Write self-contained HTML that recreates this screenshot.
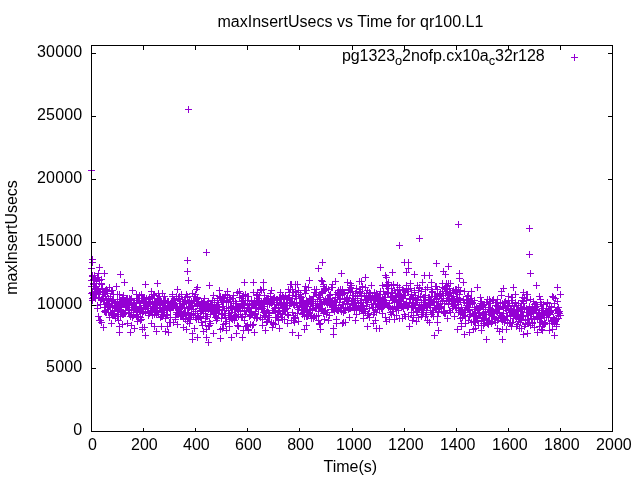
<!DOCTYPE html>
<html><head><meta charset="utf-8"><style>
html,body{margin:0;padding:0;background:#fff;}
svg{display:block;will-change:transform;}
text{font-family:"Liberation Sans",Arial,sans-serif;font-size:16px;fill:#000;}
</style></head><body>
<svg width="640" height="480" viewBox="0 0 640 480">
<rect width="640" height="480" fill="#fff"/>
<path d="M88 293.5h7M91.5 290v7M89 298.5h7M92.5 295v7M89 293.5h7M92.5 290v7M89 275.5h7M92.5 272v7M89 300.5h7M92.5 297v7M90 295.5h7M93.5 292v7M90 284.5h7M93.5 281v7M90 297.5h7M93.5 294v7M90 294.5h7M93.5 291v7M91 294.5h7M94.5 291v7M91 291.5h7M94.5 288v7M91 297.5h7M94.5 294v7M91 283.5h7M94.5 280v7M92 289.5h7M95.5 286v7M92 286.5h7M95.5 283v7M92 298.5h7M95.5 295v7M92 292.5h7M95.5 289v7M93 289.5h7M96.5 286v7M93 283.5h7M96.5 280v7M93 289.5h7M96.5 286v7M93 293.5h7M96.5 290v7M94 290.5h7M97.5 287v7M94 308.5h7M97.5 305v7M94 305.5h7M97.5 302v7M95 273.5h7M98.5 270v7M95 292.5h7M98.5 289v7M95 289.5h7M98.5 286v7M95 297.5h7M98.5 294v7M96 297.5h7M99.5 294v7M96 320.5h7M99.5 317v7M96 283.5h7M99.5 280v7M96 291.5h7M99.5 288v7M97 320.5h7M100.5 317v7M97 304.5h7M100.5 301v7M97 304.5h7M100.5 301v7M97 291.5h7M100.5 288v7M98 279.5h7M101.5 276v7M98 299.5h7M101.5 296v7M98 299.5h7M101.5 296v7M98 284.5h7M101.5 281v7M99 291.5h7M102.5 288v7M99 298.5h7M102.5 295v7M99 288.5h7M102.5 285v7M99 298.5h7M102.5 295v7M100 300.5h7M103.5 297v7M100 300.5h7M103.5 297v7M100 294.5h7M103.5 291v7M101 307.5h7M104.5 304v7M101 311.5h7M104.5 308v7M101 304.5h7M104.5 301v7M101 292.5h7M104.5 289v7M102 310.5h7M105.5 307v7M102 296.5h7M105.5 293v7M102 312.5h7M105.5 309v7M102 290.5h7M105.5 287v7M103 312.5h7M106.5 309v7M103 302.5h7M106.5 299v7M103 289.5h7M106.5 286v7M103 299.5h7M106.5 296v7M104 303.5h7M107.5 300v7M104 306.5h7M107.5 303v7M104 293.5h7M107.5 290v7M104 291.5h7M107.5 288v7M105 305.5h7M108.5 302v7M105 298.5h7M108.5 295v7M105 306.5h7M108.5 303v7M105 312.5h7M108.5 309v7M106 287.5h7M109.5 284v7M106 306.5h7M109.5 303v7M106 317.5h7M109.5 314v7M106 301.5h7M109.5 298v7M107 296.5h7M110.5 293v7M107 312.5h7M110.5 309v7M107 307.5h7M110.5 304v7M108 314.5h7M111.5 311v7M108 301.5h7M111.5 298v7M108 290.5h7M111.5 287v7M108 303.5h7M111.5 300v7M109 300.5h7M112.5 297v7M109 313.5h7M112.5 310v7M109 307.5h7M112.5 304v7M109 290.5h7M112.5 287v7M110 294.5h7M113.5 291v7M110 315.5h7M113.5 312v7M110 313.5h7M113.5 310v7M110 299.5h7M113.5 296v7M111 305.5h7M114.5 302v7M111 310.5h7M114.5 307v7M111 311.5h7M114.5 308v7M111 315.5h7M114.5 312v7M112 308.5h7M115.5 305v7M112 305.5h7M115.5 302v7M112 303.5h7M115.5 300v7M112 318.5h7M115.5 315v7M113 286.5h7M116.5 283v7M113 305.5h7M116.5 302v7M113 306.5h7M116.5 303v7M114 294.5h7M117.5 291v7M114 310.5h7M117.5 307v7M114 301.5h7M117.5 298v7M114 316.5h7M117.5 313v7M115 305.5h7M118.5 302v7M115 314.5h7M118.5 311v7M115 320.5h7M118.5 317v7M115 311.5h7M118.5 308v7M116 299.5h7M119.5 296v7M116 294.5h7M119.5 291v7M116 326.5h7M119.5 323v7M116 306.5h7M119.5 303v7M117 301.5h7M120.5 298v7M117 309.5h7M120.5 306v7M117 305.5h7M120.5 302v7M117 316.5h7M120.5 313v7M118 307.5h7M121.5 304v7M118 307.5h7M121.5 304v7M118 301.5h7M121.5 298v7M118 312.5h7M121.5 309v7M119 299.5h7M122.5 296v7M119 314.5h7M122.5 311v7M119 324.5h7M122.5 321v7M120 295.5h7M123.5 292v7M120 314.5h7M123.5 311v7M120 299.5h7M123.5 296v7M120 297.5h7M123.5 294v7M121 313.5h7M124.5 310v7M121 300.5h7M124.5 297v7M121 303.5h7M124.5 300v7M121 304.5h7M124.5 301v7M122 313.5h7M125.5 310v7M122 304.5h7M125.5 301v7M122 310.5h7M125.5 307v7M122 306.5h7M125.5 303v7M123 300.5h7M126.5 297v7M123 304.5h7M126.5 301v7M123 299.5h7M126.5 296v7M123 307.5h7M126.5 304v7M124 298.5h7M127.5 295v7M124 298.5h7M127.5 295v7M124 323.5h7M127.5 320v7M124 307.5h7M127.5 304v7M125 307.5h7M128.5 304v7M125 313.5h7M128.5 310v7M125 304.5h7M128.5 301v7M126 305.5h7M129.5 302v7M126 312.5h7M129.5 309v7M126 310.5h7M129.5 307v7M126 298.5h7M129.5 295v7M127 316.5h7M130.5 313v7M127 302.5h7M130.5 299v7M127 299.5h7M130.5 296v7M127 300.5h7M130.5 297v7M128 304.5h7M131.5 301v7M128 325.5h7M131.5 322v7M128 298.5h7M131.5 295v7M128 309.5h7M131.5 306v7M129 290.5h7M132.5 287v7M129 307.5h7M132.5 304v7M129 317.5h7M132.5 314v7M129 305.5h7M132.5 302v7M130 302.5h7M133.5 299v7M130 310.5h7M133.5 307v7M130 315.5h7M133.5 312v7M130 314.5h7M133.5 311v7M131 328.5h7M134.5 325v7M131 309.5h7M134.5 306v7M131 302.5h7M134.5 299v7M132 306.5h7M135.5 303v7M132 306.5h7M135.5 303v7M132 308.5h7M135.5 305v7M132 307.5h7M135.5 304v7M133 309.5h7M136.5 306v7M133 294.5h7M136.5 291v7M133 316.5h7M136.5 313v7M133 302.5h7M136.5 299v7M134 298.5h7M137.5 295v7M134 314.5h7M137.5 311v7M134 321.5h7M137.5 318v7M134 312.5h7M137.5 309v7M135 309.5h7M138.5 306v7M135 300.5h7M138.5 297v7M135 317.5h7M138.5 314v7M135 298.5h7M138.5 295v7M136 301.5h7M139.5 298v7M136 308.5h7M139.5 305v7M136 295.5h7M139.5 292v7M136 309.5h7M139.5 306v7M137 303.5h7M140.5 300v7M137 320.5h7M140.5 317v7M137 317.5h7M140.5 314v7M137 307.5h7M140.5 304v7M138 294.5h7M141.5 291v7M138 319.5h7M141.5 316v7M138 309.5h7M141.5 306v7M139 313.5h7M142.5 310v7M139 298.5h7M142.5 295v7M139 327.5h7M142.5 324v7M139 329.5h7M142.5 326v7M140 298.5h7M143.5 295v7M140 311.5h7M143.5 308v7M140 302.5h7M143.5 299v7M140 307.5h7M143.5 304v7M141 297.5h7M144.5 294v7M141 327.5h7M144.5 324v7M141 299.5h7M144.5 296v7M141 305.5h7M144.5 302v7M142 312.5h7M145.5 309v7M142 302.5h7M145.5 299v7M142 305.5h7M145.5 302v7M142 302.5h7M145.5 299v7M143 306.5h7M146.5 303v7M143 298.5h7M146.5 295v7M143 303.5h7M146.5 300v7M143 305.5h7M146.5 302v7M144 304.5h7M147.5 301v7M144 308.5h7M147.5 305v7M144 305.5h7M147.5 302v7M145 315.5h7M148.5 312v7M145 304.5h7M148.5 301v7M145 306.5h7M148.5 303v7M145 302.5h7M148.5 299v7M146 303.5h7M149.5 300v7M146 297.5h7M149.5 294v7M146 313.5h7M149.5 310v7M146 298.5h7M149.5 295v7M147 301.5h7M150.5 298v7M147 311.5h7M150.5 308v7M147 311.5h7M150.5 308v7M147 304.5h7M150.5 301v7M148 291.5h7M151.5 288v7M148 312.5h7M151.5 309v7M148 310.5h7M151.5 307v7M148 296.5h7M151.5 293v7M149 315.5h7M152.5 312v7M149 301.5h7M152.5 298v7M149 298.5h7M152.5 295v7M149 308.5h7M152.5 305v7M150 306.5h7M153.5 303v7M150 309.5h7M153.5 306v7M150 294.5h7M153.5 291v7M151 326.5h7M154.5 323v7M151 302.5h7M154.5 299v7M151 295.5h7M154.5 292v7M151 314.5h7M154.5 311v7M152 304.5h7M155.5 301v7M152 310.5h7M155.5 307v7M152 304.5h7M155.5 301v7M152 307.5h7M155.5 304v7M153 310.5h7M156.5 307v7M153 301.5h7M156.5 298v7M153 314.5h7M156.5 311v7M153 303.5h7M156.5 300v7M154 300.5h7M157.5 297v7M154 308.5h7M157.5 305v7M154 312.5h7M157.5 309v7M154 305.5h7M157.5 302v7M155 300.5h7M158.5 297v7M155 314.5h7M158.5 311v7M155 293.5h7M158.5 290v7M155 299.5h7M158.5 296v7M156 307.5h7M159.5 304v7M156 296.5h7M159.5 293v7M156 307.5h7M159.5 304v7M157 307.5h7M160.5 304v7M157 317.5h7M160.5 314v7M157 300.5h7M160.5 297v7M157 302.5h7M160.5 299v7M158 311.5h7M161.5 308v7M158 301.5h7M161.5 298v7M158 301.5h7M161.5 298v7M158 316.5h7M161.5 313v7M159 307.5h7M162.5 304v7M159 293.5h7M162.5 290v7M159 314.5h7M162.5 311v7M159 316.5h7M162.5 313v7M160 303.5h7M163.5 300v7M160 305.5h7M163.5 302v7M160 312.5h7M163.5 309v7M160 300.5h7M163.5 297v7M161 312.5h7M164.5 309v7M161 309.5h7M164.5 306v7M161 302.5h7M164.5 299v7M161 296.5h7M164.5 293v7M162 305.5h7M165.5 302v7M162 300.5h7M165.5 297v7M162 318.5h7M165.5 315v7M163 309.5h7M166.5 306v7M163 315.5h7M166.5 312v7M163 308.5h7M166.5 305v7M163 310.5h7M166.5 307v7M164 301.5h7M167.5 298v7M164 314.5h7M167.5 311v7M164 326.5h7M167.5 323v7M164 305.5h7M167.5 302v7M165 302.5h7M168.5 299v7M165 306.5h7M168.5 303v7M165 303.5h7M168.5 300v7M165 301.5h7M168.5 298v7M166 308.5h7M169.5 305v7M166 305.5h7M169.5 302v7M166 322.5h7M169.5 319v7M166 307.5h7M169.5 304v7M167 310.5h7M170.5 307v7M167 317.5h7M170.5 314v7M167 305.5h7M170.5 302v7M167 322.5h7M170.5 319v7M168 302.5h7M171.5 299v7M168 301.5h7M171.5 298v7M168 304.5h7M171.5 301v7M168 306.5h7M171.5 303v7M169 296.5h7M172.5 293v7M169 307.5h7M172.5 304v7M169 294.5h7M172.5 291v7M170 322.5h7M173.5 319v7M170 306.5h7M173.5 303v7M170 302.5h7M173.5 299v7M170 300.5h7M173.5 297v7M171 304.5h7M174.5 301v7M171 305.5h7M174.5 302v7M171 299.5h7M174.5 296v7M171 300.5h7M174.5 297v7M172 306.5h7M175.5 303v7M172 303.5h7M175.5 300v7M172 317.5h7M175.5 314v7M172 319.5h7M175.5 316v7M173 307.5h7M176.5 304v7M173 312.5h7M176.5 309v7M173 296.5h7M176.5 293v7M173 314.5h7M176.5 311v7M174 307.5h7M177.5 304v7M174 312.5h7M177.5 309v7M174 324.5h7M177.5 321v7M174 289.5h7M177.5 286v7M175 310.5h7M178.5 307v7M175 298.5h7M178.5 295v7M175 313.5h7M178.5 310v7M176 296.5h7M179.5 293v7M176 303.5h7M179.5 300v7M176 309.5h7M179.5 306v7M176 313.5h7M179.5 310v7M177 308.5h7M180.5 305v7M177 301.5h7M180.5 298v7M177 303.5h7M180.5 300v7M177 316.5h7M180.5 313v7M178 307.5h7M181.5 304v7M178 294.5h7M181.5 291v7M178 316.5h7M181.5 313v7M178 311.5h7M181.5 308v7M179 316.5h7M182.5 313v7M179 304.5h7M182.5 301v7M179 316.5h7M182.5 313v7M179 299.5h7M182.5 296v7M180 313.5h7M183.5 310v7M180 303.5h7M183.5 300v7M180 314.5h7M183.5 311v7M180 318.5h7M183.5 315v7M181 301.5h7M184.5 298v7M181 307.5h7M184.5 304v7M181 307.5h7M184.5 304v7M182 319.5h7M185.5 316v7M182 314.5h7M185.5 311v7M182 297.5h7M185.5 294v7M182 312.5h7M185.5 309v7M183 315.5h7M186.5 312v7M183 329.5h7M186.5 326v7M183 294.5h7M186.5 291v7M183 303.5h7M186.5 300v7M184 321.5h7M187.5 318v7M184 296.5h7M187.5 293v7M184 297.5h7M187.5 294v7M184 312.5h7M187.5 309v7M185 318.5h7M188.5 315v7M185 302.5h7M188.5 299v7M185 313.5h7M188.5 310v7M185 308.5h7M188.5 305v7M186 323.5h7M189.5 320v7M186 307.5h7M189.5 304v7M186 317.5h7M189.5 314v7M186 300.5h7M189.5 297v7M187 306.5h7M190.5 303v7M187 306.5h7M190.5 303v7M187 319.5h7M190.5 316v7M188 313.5h7M191.5 310v7M188 301.5h7M191.5 298v7M188 314.5h7M191.5 311v7M188 315.5h7M191.5 312v7M189 306.5h7M192.5 303v7M189 305.5h7M192.5 302v7M189 305.5h7M192.5 302v7M189 293.5h7M192.5 290v7M190 309.5h7M193.5 306v7M190 309.5h7M193.5 306v7M190 300.5h7M193.5 297v7M190 315.5h7M193.5 312v7M191 296.5h7M194.5 293v7M191 303.5h7M194.5 300v7M191 303.5h7M194.5 300v7M191 328.5h7M194.5 325v7M192 294.5h7M195.5 291v7M192 313.5h7M195.5 310v7M192 317.5h7M195.5 314v7M192 311.5h7M195.5 308v7M193 319.5h7M196.5 316v7M193 299.5h7M196.5 296v7M193 289.5h7M196.5 286v7M194 315.5h7M197.5 312v7M194 297.5h7M197.5 294v7M194 304.5h7M197.5 301v7M194 298.5h7M197.5 295v7M195 318.5h7M198.5 315v7M195 316.5h7M198.5 313v7M195 301.5h7M198.5 298v7M195 316.5h7M198.5 313v7M196 308.5h7M199.5 305v7M196 306.5h7M199.5 303v7M196 308.5h7M199.5 305v7M196 305.5h7M199.5 302v7M197 313.5h7M200.5 310v7M197 310.5h7M200.5 307v7M197 304.5h7M200.5 301v7M197 317.5h7M200.5 314v7M198 302.5h7M201.5 299v7M198 310.5h7M201.5 307v7M198 311.5h7M201.5 308v7M198 322.5h7M201.5 319v7M199 303.5h7M202.5 300v7M199 325.5h7M202.5 322v7M199 309.5h7M202.5 306v7M199 305.5h7M202.5 302v7M200 302.5h7M203.5 299v7M200 313.5h7M203.5 310v7M200 308.5h7M203.5 305v7M201 298.5h7M204.5 295v7M201 298.5h7M204.5 295v7M201 303.5h7M204.5 300v7M201 302.5h7M204.5 299v7M202 318.5h7M205.5 315v7M202 321.5h7M205.5 318v7M202 316.5h7M205.5 313v7M202 311.5h7M205.5 308v7M203 304.5h7M206.5 301v7M203 308.5h7M206.5 305v7M203 316.5h7M206.5 313v7M203 329.5h7M206.5 326v7M204 316.5h7M207.5 313v7M204 305.5h7M207.5 302v7M204 307.5h7M207.5 304v7M204 303.5h7M207.5 300v7M205 301.5h7M208.5 298v7M205 306.5h7M208.5 303v7M205 309.5h7M208.5 306v7M205 326.5h7M208.5 323v7M206 308.5h7M209.5 305v7M206 321.5h7M209.5 318v7M206 325.5h7M209.5 322v7M207 308.5h7M210.5 305v7M207 323.5h7M210.5 320v7M207 314.5h7M210.5 311v7M207 304.5h7M210.5 301v7M208 310.5h7M211.5 307v7M208 307.5h7M211.5 304v7M208 305.5h7M211.5 302v7M208 305.5h7M211.5 302v7M209 308.5h7M212.5 305v7M209 311.5h7M212.5 308v7M209 300.5h7M212.5 297v7M209 307.5h7M212.5 304v7M210 295.5h7M213.5 292v7M210 310.5h7M213.5 307v7M210 313.5h7M213.5 310v7M210 309.5h7M213.5 306v7M211 310.5h7M214.5 307v7M211 313.5h7M214.5 310v7M211 302.5h7M214.5 299v7M211 305.5h7M214.5 302v7M212 312.5h7M215.5 309v7M212 317.5h7M215.5 314v7M212 311.5h7M215.5 308v7M213 306.5h7M216.5 303v7M213 317.5h7M216.5 314v7M213 320.5h7M216.5 317v7M213 306.5h7M216.5 303v7M214 300.5h7M217.5 297v7M214 298.5h7M217.5 295v7M214 309.5h7M217.5 306v7M214 318.5h7M217.5 315v7M215 310.5h7M218.5 307v7M215 309.5h7M218.5 306v7M215 304.5h7M218.5 301v7M215 313.5h7M218.5 310v7M216 290.5h7M219.5 287v7M216 309.5h7M219.5 306v7M216 307.5h7M219.5 304v7M216 296.5h7M219.5 293v7M217 329.5h7M220.5 326v7M217 296.5h7M220.5 293v7M217 298.5h7M220.5 295v7M217 297.5h7M220.5 294v7M218 318.5h7M221.5 315v7M218 300.5h7M221.5 297v7M218 314.5h7M221.5 311v7M219 313.5h7M222.5 310v7M219 310.5h7M222.5 307v7M219 297.5h7M222.5 294v7M219 302.5h7M222.5 299v7M220 324.5h7M223.5 321v7M220 297.5h7M223.5 294v7M220 300.5h7M223.5 297v7M220 306.5h7M223.5 303v7M221 315.5h7M224.5 312v7M221 310.5h7M224.5 307v7M221 315.5h7M224.5 312v7M221 298.5h7M224.5 295v7M222 317.5h7M225.5 314v7M222 313.5h7M225.5 310v7M222 294.5h7M225.5 291v7M222 323.5h7M225.5 320v7M223 330.5h7M226.5 327v7M223 301.5h7M226.5 298v7M223 308.5h7M226.5 305v7M223 321.5h7M226.5 318v7M224 295.5h7M227.5 292v7M224 291.5h7M227.5 288v7M224 297.5h7M227.5 294v7M225 302.5h7M228.5 299v7M225 302.5h7M228.5 299v7M225 313.5h7M228.5 310v7M225 310.5h7M228.5 307v7M226 297.5h7M229.5 294v7M226 313.5h7M229.5 310v7M226 326.5h7M229.5 323v7M226 319.5h7M229.5 316v7M227 317.5h7M230.5 314v7M227 307.5h7M230.5 304v7M227 317.5h7M230.5 314v7M227 299.5h7M230.5 296v7M228 315.5h7M231.5 312v7M228 306.5h7M231.5 303v7M228 318.5h7M231.5 315v7M228 312.5h7M231.5 309v7M229 298.5h7M232.5 295v7M229 308.5h7M232.5 305v7M229 319.5h7M232.5 316v7M229 298.5h7M232.5 295v7M230 303.5h7M233.5 300v7M230 301.5h7M233.5 298v7M230 295.5h7M233.5 292v7M230 317.5h7M233.5 314v7M231 320.5h7M234.5 317v7M231 315.5h7M234.5 312v7M231 309.5h7M234.5 306v7M232 307.5h7M235.5 304v7M232 309.5h7M235.5 306v7M232 301.5h7M235.5 298v7M232 316.5h7M235.5 313v7M233 317.5h7M236.5 314v7M233 316.5h7M236.5 313v7M233 303.5h7M236.5 300v7M233 308.5h7M236.5 305v7M234 306.5h7M237.5 303v7M234 325.5h7M237.5 322v7M234 309.5h7M237.5 306v7M234 292.5h7M237.5 289v7M235 311.5h7M238.5 308v7M235 326.5h7M238.5 323v7M235 314.5h7M238.5 311v7M235 316.5h7M238.5 313v7M236 307.5h7M239.5 304v7M236 291.5h7M239.5 288v7M236 293.5h7M239.5 290v7M236 297.5h7M239.5 294v7M237 306.5h7M240.5 303v7M237 310.5h7M240.5 307v7M237 314.5h7M240.5 311v7M238 304.5h7M241.5 301v7M238 317.5h7M241.5 314v7M238 305.5h7M241.5 302v7M238 301.5h7M241.5 298v7M239 316.5h7M242.5 313v7M239 300.5h7M242.5 297v7M239 298.5h7M242.5 295v7M239 308.5h7M242.5 305v7M240 304.5h7M243.5 301v7M240 304.5h7M243.5 301v7M240 296.5h7M243.5 293v7M240 295.5h7M243.5 292v7M241 303.5h7M244.5 300v7M241 303.5h7M244.5 300v7M241 320.5h7M244.5 317v7M241 311.5h7M244.5 308v7M242 294.5h7M245.5 291v7M242 300.5h7M245.5 297v7M242 314.5h7M245.5 311v7M242 326.5h7M245.5 323v7M243 311.5h7M246.5 308v7M243 310.5h7M246.5 307v7M243 326.5h7M246.5 323v7M244 307.5h7M247.5 304v7M244 305.5h7M247.5 302v7M244 296.5h7M247.5 293v7M244 303.5h7M247.5 300v7M245 329.5h7M248.5 326v7M245 296.5h7M248.5 293v7M245 307.5h7M248.5 304v7M245 296.5h7M248.5 293v7M246 308.5h7M249.5 305v7M246 316.5h7M249.5 313v7M246 305.5h7M249.5 302v7M246 314.5h7M249.5 311v7M247 314.5h7M250.5 311v7M247 311.5h7M250.5 308v7M247 324.5h7M250.5 321v7M247 315.5h7M250.5 312v7M248 305.5h7M251.5 302v7M248 301.5h7M251.5 298v7M248 300.5h7M251.5 297v7M248 312.5h7M251.5 309v7M249 304.5h7M252.5 301v7M249 325.5h7M252.5 322v7M249 305.5h7M252.5 302v7M250 304.5h7M253.5 301v7M250 324.5h7M253.5 321v7M250 292.5h7M253.5 289v7M250 303.5h7M253.5 300v7M251 317.5h7M254.5 314v7M251 300.5h7M254.5 297v7M251 303.5h7M254.5 300v7M251 304.5h7M254.5 301v7M252 314.5h7M255.5 311v7M252 308.5h7M255.5 305v7M252 311.5h7M255.5 308v7M252 313.5h7M255.5 310v7M253 307.5h7M256.5 304v7M253 318.5h7M256.5 315v7M253 301.5h7M256.5 298v7M253 295.5h7M256.5 292v7M254 292.5h7M257.5 289v7M254 294.5h7M257.5 291v7M254 302.5h7M257.5 299v7M254 317.5h7M257.5 314v7M255 309.5h7M258.5 306v7M255 302.5h7M258.5 299v7M255 298.5h7M258.5 295v7M256 303.5h7M259.5 300v7M256 304.5h7M259.5 301v7M256 302.5h7M259.5 299v7M256 295.5h7M259.5 292v7M257 303.5h7M260.5 300v7M257 317.5h7M260.5 314v7M257 289.5h7M260.5 286v7M257 305.5h7M260.5 302v7M258 290.5h7M261.5 287v7M258 309.5h7M261.5 306v7M258 301.5h7M261.5 298v7M258 290.5h7M261.5 287v7M259 308.5h7M262.5 305v7M259 325.5h7M262.5 322v7M259 308.5h7M262.5 305v7M259 319.5h7M262.5 316v7M260 306.5h7M263.5 303v7M260 289.5h7M263.5 286v7M260 312.5h7M263.5 309v7M260 304.5h7M263.5 301v7M261 295.5h7M264.5 292v7M261 315.5h7M264.5 312v7M261 310.5h7M264.5 307v7M261 303.5h7M264.5 300v7M262 316.5h7M265.5 313v7M262 300.5h7M265.5 297v7M262 313.5h7M265.5 310v7M263 299.5h7M266.5 296v7M263 312.5h7M266.5 309v7M263 298.5h7M266.5 295v7M263 322.5h7M266.5 319v7M264 310.5h7M267.5 307v7M264 321.5h7M267.5 318v7M264 300.5h7M267.5 297v7M264 303.5h7M267.5 300v7M265 315.5h7M268.5 312v7M265 298.5h7M268.5 295v7M265 317.5h7M268.5 314v7M265 312.5h7M268.5 309v7M266 317.5h7M269.5 314v7M266 304.5h7M269.5 301v7M266 313.5h7M269.5 310v7M266 301.5h7M269.5 298v7M267 296.5h7M270.5 293v7M267 293.5h7M270.5 290v7M267 302.5h7M270.5 299v7M267 302.5h7M270.5 299v7M268 302.5h7M271.5 299v7M268 290.5h7M271.5 287v7M268 303.5h7M271.5 300v7M269 310.5h7M272.5 307v7M269 302.5h7M272.5 299v7M269 300.5h7M272.5 297v7M269 327.5h7M272.5 324v7M270 298.5h7M273.5 295v7M270 324.5h7M273.5 321v7M270 323.5h7M273.5 320v7M270 310.5h7M273.5 307v7M271 302.5h7M274.5 299v7M271 308.5h7M274.5 305v7M271 297.5h7M274.5 294v7M271 310.5h7M274.5 307v7M272 307.5h7M275.5 304v7M272 312.5h7M275.5 309v7M272 317.5h7M275.5 314v7M272 324.5h7M275.5 321v7M273 304.5h7M276.5 301v7M273 317.5h7M276.5 314v7M273 300.5h7M276.5 297v7M273 299.5h7M276.5 296v7M274 302.5h7M277.5 299v7M274 299.5h7M277.5 296v7M274 317.5h7M277.5 314v7M275 316.5h7M278.5 313v7M275 320.5h7M278.5 317v7M275 307.5h7M278.5 304v7M275 310.5h7M278.5 307v7M276 302.5h7M279.5 299v7M276 297.5h7M279.5 294v7M276 311.5h7M279.5 308v7M276 310.5h7M279.5 307v7M277 298.5h7M280.5 295v7M277 313.5h7M280.5 310v7M277 292.5h7M280.5 289v7M277 305.5h7M280.5 302v7M278 302.5h7M281.5 299v7M278 303.5h7M281.5 300v7M278 298.5h7M281.5 295v7M278 317.5h7M281.5 314v7M279 313.5h7M282.5 310v7M279 319.5h7M282.5 316v7M279 308.5h7M282.5 305v7M279 296.5h7M282.5 293v7M280 304.5h7M283.5 301v7M280 297.5h7M283.5 294v7M280 311.5h7M283.5 308v7M281 319.5h7M284.5 316v7M281 310.5h7M284.5 307v7M281 302.5h7M284.5 299v7M281 304.5h7M284.5 301v7M282 309.5h7M285.5 306v7M282 295.5h7M285.5 292v7M282 308.5h7M285.5 305v7M282 309.5h7M285.5 306v7M283 302.5h7M286.5 299v7M283 303.5h7M286.5 300v7M283 308.5h7M286.5 305v7M283 299.5h7M286.5 296v7M284 299.5h7M287.5 296v7M284 314.5h7M287.5 311v7M284 308.5h7M287.5 305v7M284 323.5h7M287.5 320v7M285 297.5h7M288.5 294v7M285 289.5h7M288.5 286v7M285 315.5h7M288.5 312v7M285 315.5h7M288.5 312v7M286 299.5h7M289.5 296v7M286 292.5h7M289.5 289v7M286 305.5h7M289.5 302v7M287 289.5h7M290.5 286v7M287 302.5h7M290.5 299v7M287 284.5h7M290.5 281v7M287 303.5h7M290.5 300v7M288 284.5h7M291.5 281v7M288 303.5h7M291.5 300v7M288 320.5h7M291.5 317v7M288 302.5h7M291.5 299v7M289 312.5h7M292.5 309v7M289 298.5h7M292.5 295v7M289 295.5h7M292.5 292v7M289 289.5h7M292.5 286v7M290 315.5h7M293.5 312v7M290 304.5h7M293.5 301v7M290 320.5h7M293.5 317v7M290 292.5h7M293.5 289v7M291 302.5h7M294.5 299v7M291 305.5h7M294.5 302v7M291 318.5h7M294.5 315v7M291 322.5h7M294.5 319v7M292 296.5h7M295.5 293v7M292 291.5h7M295.5 288v7M292 284.5h7M295.5 281v7M292 317.5h7M295.5 314v7M293 302.5h7M296.5 299v7M293 296.5h7M296.5 293v7M293 303.5h7M296.5 300v7M294 284.5h7M297.5 281v7M294 313.5h7M297.5 310v7M294 307.5h7M297.5 304v7M294 305.5h7M297.5 302v7M295 292.5h7M298.5 289v7M295 309.5h7M298.5 306v7M295 321.5h7M298.5 318v7M295 290.5h7M298.5 287v7M296 303.5h7M299.5 300v7M296 298.5h7M299.5 295v7M296 307.5h7M299.5 304v7M296 303.5h7M299.5 300v7M297 302.5h7M300.5 299v7M297 294.5h7M300.5 291v7M297 303.5h7M300.5 300v7M297 296.5h7M300.5 293v7M298 302.5h7M301.5 299v7M298 302.5h7M301.5 299v7M298 310.5h7M301.5 307v7M298 297.5h7M301.5 294v7M299 300.5h7M302.5 297v7M299 314.5h7M302.5 311v7M299 301.5h7M302.5 298v7M300 300.5h7M303.5 297v7M300 312.5h7M303.5 309v7M300 306.5h7M303.5 303v7M300 304.5h7M303.5 301v7M301 305.5h7M304.5 302v7M301 290.5h7M304.5 287v7M301 308.5h7M304.5 305v7M301 316.5h7M304.5 313v7M302 309.5h7M305.5 306v7M302 286.5h7M305.5 283v7M302 306.5h7M305.5 303v7M302 293.5h7M305.5 290v7M303 300.5h7M306.5 297v7M303 304.5h7M306.5 301v7M303 290.5h7M306.5 287v7M303 316.5h7M306.5 313v7M304 302.5h7M307.5 299v7M304 311.5h7M307.5 308v7M304 309.5h7M307.5 306v7M304 316.5h7M307.5 313v7M305 315.5h7M308.5 312v7M305 287.5h7M308.5 284v7M305 303.5h7M308.5 300v7M306 280.5h7M309.5 277v7M306 298.5h7M309.5 295v7M306 310.5h7M309.5 307v7M306 312.5h7M309.5 309v7M307 315.5h7M310.5 312v7M307 299.5h7M310.5 296v7M307 306.5h7M310.5 303v7M307 304.5h7M310.5 301v7M308 315.5h7M311.5 312v7M308 318.5h7M311.5 315v7M308 299.5h7M311.5 296v7M308 303.5h7M311.5 300v7M309 299.5h7M312.5 296v7M309 309.5h7M312.5 306v7M309 310.5h7M312.5 307v7M309 308.5h7M312.5 305v7M310 296.5h7M313.5 293v7M310 317.5h7M313.5 314v7M310 303.5h7M313.5 300v7M310 318.5h7M313.5 315v7M311 316.5h7M314.5 313v7M311 289.5h7M314.5 286v7M311 292.5h7M314.5 289v7M312 292.5h7M315.5 289v7M312 305.5h7M315.5 302v7M312 303.5h7M315.5 300v7M312 305.5h7M315.5 302v7M313 294.5h7M316.5 291v7M313 307.5h7M316.5 304v7M313 316.5h7M316.5 313v7M313 289.5h7M316.5 286v7M314 301.5h7M317.5 298v7M314 305.5h7M317.5 302v7M314 301.5h7M317.5 298v7M314 301.5h7M317.5 298v7M315 320.5h7M318.5 317v7M315 315.5h7M318.5 312v7M315 311.5h7M318.5 308v7M315 295.5h7M318.5 292v7M316 324.5h7M319.5 321v7M316 306.5h7M319.5 303v7M316 297.5h7M319.5 294v7M316 299.5h7M319.5 296v7M317 297.5h7M320.5 294v7M317 323.5h7M320.5 320v7M317 304.5h7M320.5 301v7M318 303.5h7M321.5 300v7M318 280.5h7M321.5 277v7M318 309.5h7M321.5 306v7M318 292.5h7M321.5 289v7M319 291.5h7M322.5 288v7M319 308.5h7M322.5 305v7M319 293.5h7M322.5 290v7M319 310.5h7M322.5 307v7M320 313.5h7M323.5 310v7M320 284.5h7M323.5 281v7M320 301.5h7M323.5 298v7M320 286.5h7M323.5 283v7M321 302.5h7M324.5 299v7M321 311.5h7M324.5 308v7M321 288.5h7M324.5 285v7M321 319.5h7M324.5 316v7M322 299.5h7M325.5 296v7M322 290.5h7M325.5 287v7M322 301.5h7M325.5 298v7M322 310.5h7M325.5 307v7M323 288.5h7M326.5 285v7M323 302.5h7M326.5 299v7M323 288.5h7M326.5 285v7M323 314.5h7M326.5 311v7M324 304.5h7M327.5 301v7M324 298.5h7M327.5 295v7M324 312.5h7M327.5 309v7M325 289.5h7M328.5 286v7M325 298.5h7M328.5 295v7M325 320.5h7M328.5 317v7M325 301.5h7M328.5 298v7M326 315.5h7M329.5 312v7M326 304.5h7M329.5 301v7M326 295.5h7M329.5 292v7M326 299.5h7M329.5 296v7M327 303.5h7M330.5 300v7M327 298.5h7M330.5 295v7M327 294.5h7M330.5 291v7M327 294.5h7M330.5 291v7M328 287.5h7M331.5 284v7M328 303.5h7M331.5 300v7M328 305.5h7M331.5 302v7M328 309.5h7M331.5 306v7M329 284.5h7M332.5 281v7M329 309.5h7M332.5 306v7M329 301.5h7M332.5 298v7M329 287.5h7M332.5 284v7M330 303.5h7M333.5 300v7M330 309.5h7M333.5 306v7M330 307.5h7M333.5 304v7M331 309.5h7M334.5 306v7M331 311.5h7M334.5 308v7M331 310.5h7M334.5 307v7M331 301.5h7M334.5 298v7M332 281.5h7M335.5 278v7M332 294.5h7M335.5 291v7M332 305.5h7M335.5 302v7M332 297.5h7M335.5 294v7M333 308.5h7M336.5 305v7M333 309.5h7M336.5 306v7M333 302.5h7M336.5 299v7M333 319.5h7M336.5 316v7M334 292.5h7M337.5 289v7M334 310.5h7M337.5 307v7M334 297.5h7M337.5 294v7M334 294.5h7M337.5 291v7M335 307.5h7M338.5 304v7M335 295.5h7M338.5 292v7M335 310.5h7M338.5 307v7M335 290.5h7M338.5 287v7M336 302.5h7M339.5 299v7M336 293.5h7M339.5 290v7M336 299.5h7M339.5 296v7M337 298.5h7M340.5 295v7M337 290.5h7M340.5 287v7M337 308.5h7M340.5 305v7M337 289.5h7M340.5 286v7M338 292.5h7M341.5 289v7M338 310.5h7M341.5 307v7M338 311.5h7M341.5 308v7M338 308.5h7M341.5 305v7M339 304.5h7M342.5 301v7M339 323.5h7M342.5 320v7M339 289.5h7M342.5 286v7M339 294.5h7M342.5 291v7M340 292.5h7M343.5 289v7M340 310.5h7M343.5 307v7M340 304.5h7M343.5 301v7M340 312.5h7M343.5 309v7M341 310.5h7M344.5 307v7M341 299.5h7M344.5 296v7M341 293.5h7M344.5 290v7M341 292.5h7M344.5 289v7M342 322.5h7M345.5 319v7M342 310.5h7M345.5 307v7M342 307.5h7M345.5 304v7M343 298.5h7M346.5 295v7M343 299.5h7M346.5 296v7M343 298.5h7M346.5 295v7M343 298.5h7M346.5 295v7M344 300.5h7M347.5 297v7M344 297.5h7M347.5 294v7M344 304.5h7M347.5 301v7M344 303.5h7M347.5 300v7M345 309.5h7M348.5 306v7M345 301.5h7M348.5 298v7M345 309.5h7M348.5 306v7M345 290.5h7M348.5 287v7M346 317.5h7M349.5 314v7M346 289.5h7M349.5 286v7M346 298.5h7M349.5 295v7M346 308.5h7M349.5 305v7M347 292.5h7M350.5 289v7M347 308.5h7M350.5 305v7M347 287.5h7M350.5 284v7M347 283.5h7M350.5 280v7M348 288.5h7M351.5 285v7M348 285.5h7M351.5 282v7M348 301.5h7M351.5 298v7M349 298.5h7M352.5 295v7M349 304.5h7M352.5 301v7M349 291.5h7M352.5 288v7M349 300.5h7M352.5 297v7M350 300.5h7M353.5 297v7M350 305.5h7M353.5 302v7M350 298.5h7M353.5 295v7M350 295.5h7M353.5 292v7M351 302.5h7M354.5 299v7M351 309.5h7M354.5 306v7M351 307.5h7M354.5 304v7M351 310.5h7M354.5 307v7M352 295.5h7M355.5 292v7M352 293.5h7M355.5 290v7M352 320.5h7M355.5 317v7M352 298.5h7M355.5 295v7M353 305.5h7M356.5 302v7M353 308.5h7M356.5 305v7M353 314.5h7M356.5 311v7M353 288.5h7M356.5 285v7M354 296.5h7M357.5 293v7M354 296.5h7M357.5 293v7M354 298.5h7M357.5 295v7M354 300.5h7M357.5 297v7M355 303.5h7M358.5 300v7M355 306.5h7M358.5 303v7M355 306.5h7M358.5 303v7M356 289.5h7M359.5 286v7M356 310.5h7M359.5 307v7M356 292.5h7M359.5 289v7M356 289.5h7M359.5 286v7M357 291.5h7M360.5 288v7M357 293.5h7M360.5 290v7M357 302.5h7M360.5 299v7M357 308.5h7M360.5 305v7M358 281.5h7M361.5 278v7M358 295.5h7M361.5 292v7M358 309.5h7M361.5 306v7M358 302.5h7M361.5 299v7M359 305.5h7M362.5 302v7M359 287.5h7M362.5 284v7M359 309.5h7M362.5 306v7M359 286.5h7M362.5 283v7M360 302.5h7M363.5 299v7M360 313.5h7M363.5 310v7M360 318.5h7M363.5 315v7M360 305.5h7M363.5 302v7M361 309.5h7M364.5 306v7M361 295.5h7M364.5 292v7M361 296.5h7M364.5 293v7M362 311.5h7M365.5 308v7M362 300.5h7M365.5 297v7M362 299.5h7M365.5 296v7M362 287.5h7M365.5 284v7M363 302.5h7M366.5 299v7M363 306.5h7M366.5 303v7M363 293.5h7M366.5 290v7M363 296.5h7M366.5 293v7M364 315.5h7M367.5 312v7M364 302.5h7M367.5 299v7M364 298.5h7M367.5 295v7M364 290.5h7M367.5 287v7M365 295.5h7M368.5 292v7M365 298.5h7M368.5 295v7M365 313.5h7M368.5 310v7M365 295.5h7M368.5 292v7M366 317.5h7M369.5 314v7M366 292.5h7M369.5 289v7M366 297.5h7M369.5 294v7M366 308.5h7M369.5 305v7M367 298.5h7M370.5 295v7M367 293.5h7M370.5 290v7M367 299.5h7M370.5 296v7M368 304.5h7M371.5 301v7M368 285.5h7M371.5 282v7M368 298.5h7M371.5 295v7M368 299.5h7M371.5 296v7M369 296.5h7M372.5 293v7M369 307.5h7M372.5 304v7M369 295.5h7M372.5 292v7M369 297.5h7M372.5 294v7M370 300.5h7M373.5 297v7M370 307.5h7M373.5 304v7M370 298.5h7M373.5 295v7M370 314.5h7M373.5 311v7M371 292.5h7M374.5 289v7M371 312.5h7M374.5 309v7M371 292.5h7M374.5 289v7M371 299.5h7M374.5 296v7M372 303.5h7M375.5 300v7M372 320.5h7M375.5 317v7M372 309.5h7M375.5 306v7M372 296.5h7M375.5 293v7M373 312.5h7M376.5 309v7M373 298.5h7M376.5 295v7M373 293.5h7M376.5 290v7M374 304.5h7M377.5 301v7M374 301.5h7M377.5 298v7M374 309.5h7M377.5 306v7M374 295.5h7M377.5 292v7M375 304.5h7M378.5 301v7M375 306.5h7M378.5 303v7M375 303.5h7M378.5 300v7M375 300.5h7M378.5 297v7M376 294.5h7M379.5 291v7M376 309.5h7M379.5 306v7M376 301.5h7M379.5 298v7M376 305.5h7M379.5 302v7M377 297.5h7M380.5 294v7M377 300.5h7M380.5 297v7M377 291.5h7M380.5 288v7M377 301.5h7M380.5 298v7M378 307.5h7M381.5 304v7M378 301.5h7M381.5 298v7M378 308.5h7M381.5 305v7M378 303.5h7M381.5 300v7M379 313.5h7M382.5 310v7M379 298.5h7M382.5 295v7M379 285.5h7M382.5 282v7M379 304.5h7M382.5 301v7M380 299.5h7M383.5 296v7M380 291.5h7M383.5 288v7M380 306.5h7M383.5 303v7M381 303.5h7M384.5 300v7M381 304.5h7M384.5 301v7M381 297.5h7M384.5 294v7M381 302.5h7M384.5 299v7M382 302.5h7M385.5 299v7M382 317.5h7M385.5 314v7M382 294.5h7M385.5 291v7M382 300.5h7M385.5 297v7M383 303.5h7M386.5 300v7M383 284.5h7M386.5 281v7M383 286.5h7M386.5 283v7M383 321.5h7M386.5 318v7M384 284.5h7M387.5 281v7M384 305.5h7M387.5 302v7M384 292.5h7M387.5 289v7M384 293.5h7M387.5 290v7M385 282.5h7M388.5 279v7M385 292.5h7M388.5 289v7M385 307.5h7M388.5 304v7M385 288.5h7M388.5 285v7M386 306.5h7M389.5 303v7M386 303.5h7M389.5 300v7M386 319.5h7M389.5 316v7M387 296.5h7M390.5 293v7M387 312.5h7M390.5 309v7M387 308.5h7M390.5 305v7M387 297.5h7M390.5 294v7M388 285.5h7M391.5 282v7M388 314.5h7M391.5 311v7M388 288.5h7M391.5 285v7M388 296.5h7M391.5 293v7M389 308.5h7M392.5 305v7M389 311.5h7M392.5 308v7M389 292.5h7M392.5 289v7M389 300.5h7M392.5 297v7M390 298.5h7M393.5 295v7M390 311.5h7M393.5 308v7M390 284.5h7M393.5 281v7M390 309.5h7M393.5 306v7M391 300.5h7M394.5 297v7M391 290.5h7M394.5 287v7M391 319.5h7M394.5 316v7M391 302.5h7M394.5 299v7M392 293.5h7M395.5 290v7M392 296.5h7M395.5 293v7M392 295.5h7M395.5 292v7M393 302.5h7M396.5 299v7M393 299.5h7M396.5 296v7M393 306.5h7M396.5 303v7M393 315.5h7M396.5 312v7M394 307.5h7M397.5 304v7M394 289.5h7M397.5 286v7M394 285.5h7M397.5 282v7M394 293.5h7M397.5 290v7M395 310.5h7M398.5 307v7M395 297.5h7M398.5 294v7M395 294.5h7M398.5 291v7M395 301.5h7M398.5 298v7M396 287.5h7M399.5 284v7M396 290.5h7M399.5 287v7M396 305.5h7M399.5 302v7M396 297.5h7M399.5 294v7M397 296.5h7M400.5 293v7M397 303.5h7M400.5 300v7M397 295.5h7M400.5 292v7M397 294.5h7M400.5 291v7M398 296.5h7M401.5 293v7M398 306.5h7M401.5 303v7M398 301.5h7M401.5 298v7M399 289.5h7M402.5 286v7M399 297.5h7M402.5 294v7M399 306.5h7M402.5 303v7M399 318.5h7M402.5 315v7M400 290.5h7M403.5 287v7M400 303.5h7M403.5 300v7M400 298.5h7M403.5 295v7M400 308.5h7M403.5 305v7M401 304.5h7M404.5 301v7M401 314.5h7M404.5 311v7M401 305.5h7M404.5 302v7M401 295.5h7M404.5 292v7M402 295.5h7M405.5 292v7M402 304.5h7M405.5 301v7M402 304.5h7M405.5 301v7M402 316.5h7M405.5 313v7M403 289.5h7M406.5 286v7M403 303.5h7M406.5 300v7M403 288.5h7M406.5 285v7M403 285.5h7M406.5 282v7M404 307.5h7M407.5 304v7M404 305.5h7M407.5 302v7M404 291.5h7M407.5 288v7M405 316.5h7M408.5 313v7M405 291.5h7M408.5 288v7M405 289.5h7M408.5 286v7M405 306.5h7M408.5 303v7M406 302.5h7M409.5 299v7M406 299.5h7M409.5 296v7M406 299.5h7M409.5 296v7M406 302.5h7M409.5 299v7M407 299.5h7M410.5 296v7M407 298.5h7M410.5 295v7M407 283.5h7M410.5 280v7M407 288.5h7M410.5 285v7M408 306.5h7M411.5 303v7M408 294.5h7M411.5 291v7M408 305.5h7M411.5 302v7M408 312.5h7M411.5 309v7M409 297.5h7M412.5 294v7M409 303.5h7M412.5 300v7M409 320.5h7M412.5 317v7M409 307.5h7M412.5 304v7M410 317.5h7M413.5 314v7M410 315.5h7M413.5 312v7M410 307.5h7M413.5 304v7M410 299.5h7M413.5 296v7M411 292.5h7M414.5 289v7M411 290.5h7M414.5 287v7M411 305.5h7M414.5 302v7M412 304.5h7M415.5 301v7M412 298.5h7M415.5 295v7M412 308.5h7M415.5 305v7M412 295.5h7M415.5 292v7M413 311.5h7M416.5 308v7M413 300.5h7M416.5 297v7M413 300.5h7M416.5 297v7M413 300.5h7M416.5 297v7M414 299.5h7M417.5 296v7M414 285.5h7M417.5 282v7M414 302.5h7M417.5 299v7M414 312.5h7M417.5 309v7M415 307.5h7M418.5 304v7M415 297.5h7M418.5 294v7M415 317.5h7M418.5 314v7M415 290.5h7M418.5 287v7M416 288.5h7M419.5 285v7M416 305.5h7M419.5 302v7M416 287.5h7M419.5 284v7M416 308.5h7M419.5 305v7M417 307.5h7M420.5 304v7M417 307.5h7M420.5 304v7M417 296.5h7M420.5 293v7M418 302.5h7M421.5 299v7M418 291.5h7M421.5 288v7M418 316.5h7M421.5 313v7M418 308.5h7M421.5 305v7M419 307.5h7M422.5 304v7M419 282.5h7M422.5 279v7M419 308.5h7M422.5 305v7M419 314.5h7M422.5 311v7M420 312.5h7M423.5 309v7M420 307.5h7M423.5 304v7M420 300.5h7M423.5 297v7M420 297.5h7M423.5 294v7M421 306.5h7M424.5 303v7M421 304.5h7M424.5 301v7M421 302.5h7M424.5 299v7M421 297.5h7M424.5 294v7M422 316.5h7M425.5 313v7M422 289.5h7M425.5 286v7M422 300.5h7M425.5 297v7M422 295.5h7M425.5 292v7M423 310.5h7M426.5 307v7M423 314.5h7M426.5 311v7M423 312.5h7M426.5 309v7M424 307.5h7M427.5 304v7M424 287.5h7M427.5 284v7M424 320.5h7M427.5 317v7M424 305.5h7M427.5 302v7M425 299.5h7M428.5 296v7M425 300.5h7M428.5 297v7M425 297.5h7M428.5 294v7M425 304.5h7M428.5 301v7M426 303.5h7M429.5 300v7M426 297.5h7M429.5 294v7M426 300.5h7M429.5 297v7M426 305.5h7M429.5 302v7M427 305.5h7M430.5 302v7M427 299.5h7M430.5 296v7M427 304.5h7M430.5 301v7M427 310.5h7M430.5 307v7M428 296.5h7M431.5 293v7M428 314.5h7M431.5 311v7M428 282.5h7M431.5 279v7M428 289.5h7M431.5 286v7M429 292.5h7M432.5 289v7M429 291.5h7M432.5 288v7M429 312.5h7M432.5 309v7M430 312.5h7M433.5 309v7M430 301.5h7M433.5 298v7M430 316.5h7M433.5 313v7M430 302.5h7M433.5 299v7M431 296.5h7M434.5 293v7M431 302.5h7M434.5 299v7M431 299.5h7M434.5 296v7M431 307.5h7M434.5 304v7M432 286.5h7M435.5 283v7M432 309.5h7M435.5 306v7M432 296.5h7M435.5 293v7M432 308.5h7M435.5 305v7M433 286.5h7M436.5 283v7M433 296.5h7M436.5 293v7M433 301.5h7M436.5 298v7M433 309.5h7M436.5 306v7M434 289.5h7M437.5 286v7M434 316.5h7M437.5 313v7M434 305.5h7M437.5 302v7M434 295.5h7M437.5 292v7M435 312.5h7M438.5 309v7M435 301.5h7M438.5 298v7M435 311.5h7M438.5 308v7M436 307.5h7M439.5 304v7M436 295.5h7M439.5 292v7M436 296.5h7M439.5 293v7M436 306.5h7M439.5 303v7M437 303.5h7M440.5 300v7M437 293.5h7M440.5 290v7M437 294.5h7M440.5 291v7M437 306.5h7M440.5 303v7M438 307.5h7M441.5 304v7M438 298.5h7M441.5 295v7M438 307.5h7M441.5 304v7M438 308.5h7M441.5 305v7M439 301.5h7M442.5 298v7M439 291.5h7M442.5 288v7M439 287.5h7M442.5 284v7M439 283.5h7M442.5 280v7M440 312.5h7M443.5 309v7M440 298.5h7M443.5 295v7M440 295.5h7M443.5 292v7M440 298.5h7M443.5 295v7M441 288.5h7M444.5 285v7M441 303.5h7M444.5 300v7M441 313.5h7M444.5 310v7M441 311.5h7M444.5 308v7M442 286.5h7M445.5 283v7M442 313.5h7M445.5 310v7M442 293.5h7M445.5 290v7M443 283.5h7M446.5 280v7M443 289.5h7M446.5 286v7M443 291.5h7M446.5 288v7M443 300.5h7M446.5 297v7M444 291.5h7M447.5 288v7M444 286.5h7M447.5 283v7M444 298.5h7M447.5 295v7M444 318.5h7M447.5 315v7M445 294.5h7M448.5 291v7M445 304.5h7M448.5 301v7M445 301.5h7M448.5 298v7M445 283.5h7M448.5 280v7M446 310.5h7M449.5 307v7M446 288.5h7M449.5 285v7M446 295.5h7M449.5 292v7M446 299.5h7M449.5 296v7M447 293.5h7M450.5 290v7M447 283.5h7M450.5 280v7M447 312.5h7M450.5 309v7M447 292.5h7M450.5 289v7M448 298.5h7M451.5 295v7M448 300.5h7M451.5 297v7M448 301.5h7M451.5 298v7M449 298.5h7M452.5 295v7M449 303.5h7M452.5 300v7M449 304.5h7M452.5 301v7M449 308.5h7M452.5 305v7M450 296.5h7M453.5 293v7M450 293.5h7M453.5 290v7M450 290.5h7M453.5 287v7M450 306.5h7M453.5 303v7M451 300.5h7M454.5 297v7M451 305.5h7M454.5 302v7M451 305.5h7M454.5 302v7M451 316.5h7M454.5 313v7M452 302.5h7M455.5 299v7M452 307.5h7M455.5 304v7M452 289.5h7M455.5 286v7M452 291.5h7M455.5 288v7M453 298.5h7M456.5 295v7M453 290.5h7M456.5 287v7M453 308.5h7M456.5 305v7M453 289.5h7M456.5 286v7M454 302.5h7M457.5 299v7M454 292.5h7M457.5 289v7M454 299.5h7M457.5 296v7M455 300.5h7M458.5 297v7M455 287.5h7M458.5 284v7M455 304.5h7M458.5 301v7M455 312.5h7M458.5 309v7M456 310.5h7M459.5 307v7M456 298.5h7M459.5 295v7M456 299.5h7M459.5 296v7M456 294.5h7M459.5 291v7M457 310.5h7M460.5 307v7M457 318.5h7M460.5 315v7M457 300.5h7M460.5 297v7M457 290.5h7M460.5 287v7M458 307.5h7M461.5 304v7M458 312.5h7M461.5 309v7M458 307.5h7M461.5 304v7M458 326.5h7M461.5 323v7M459 314.5h7M462.5 311v7M459 312.5h7M462.5 309v7M459 311.5h7M462.5 308v7M459 317.5h7M462.5 314v7M460 299.5h7M463.5 296v7M460 300.5h7M463.5 297v7M460 312.5h7M463.5 309v7M461 302.5h7M464.5 299v7M461 310.5h7M464.5 307v7M461 291.5h7M464.5 288v7M461 315.5h7M464.5 312v7M462 316.5h7M465.5 313v7M462 309.5h7M465.5 306v7M462 310.5h7M465.5 307v7M462 323.5h7M465.5 320v7M463 299.5h7M466.5 296v7M463 300.5h7M466.5 297v7M463 299.5h7M466.5 296v7M463 305.5h7M466.5 302v7M464 300.5h7M467.5 297v7M464 309.5h7M467.5 306v7M464 303.5h7M467.5 300v7M464 296.5h7M467.5 293v7M465 295.5h7M468.5 292v7M465 320.5h7M468.5 317v7M465 309.5h7M468.5 306v7M465 307.5h7M468.5 304v7M466 310.5h7M469.5 307v7M466 309.5h7M469.5 306v7M466 316.5h7M469.5 313v7M467 314.5h7M470.5 311v7M467 304.5h7M470.5 301v7M467 302.5h7M470.5 299v7M467 300.5h7M470.5 297v7M468 298.5h7M471.5 295v7M468 322.5h7M471.5 319v7M468 301.5h7M471.5 298v7M468 291.5h7M471.5 288v7M469 302.5h7M472.5 299v7M469 303.5h7M472.5 300v7M469 313.5h7M472.5 310v7M469 302.5h7M472.5 299v7M470 315.5h7M473.5 312v7M470 314.5h7M473.5 311v7M470 321.5h7M473.5 318v7M470 329.5h7M473.5 326v7M471 322.5h7M474.5 319v7M471 300.5h7M474.5 297v7M471 307.5h7M474.5 304v7M471 313.5h7M474.5 310v7M472 328.5h7M475.5 325v7M472 316.5h7M475.5 313v7M472 321.5h7M475.5 318v7M472 309.5h7M475.5 306v7M473 316.5h7M476.5 313v7M473 317.5h7M476.5 314v7M473 307.5h7M476.5 304v7M474 318.5h7M477.5 315v7M474 320.5h7M477.5 317v7M474 310.5h7M477.5 307v7M474 320.5h7M477.5 317v7M475 325.5h7M478.5 322v7M475 312.5h7M478.5 309v7M475 312.5h7M478.5 309v7M475 309.5h7M478.5 306v7M476 306.5h7M479.5 303v7M476 313.5h7M479.5 310v7M476 308.5h7M479.5 305v7M476 309.5h7M479.5 306v7M477 305.5h7M480.5 302v7M477 297.5h7M480.5 294v7M477 303.5h7M480.5 300v7M477 315.5h7M480.5 312v7M478 301.5h7M481.5 298v7M478 306.5h7M481.5 303v7M478 325.5h7M481.5 322v7M478 321.5h7M481.5 318v7M479 305.5h7M482.5 302v7M479 317.5h7M482.5 314v7M479 306.5h7M482.5 303v7M480 325.5h7M483.5 322v7M480 307.5h7M483.5 304v7M480 313.5h7M483.5 310v7M480 323.5h7M483.5 320v7M481 304.5h7M484.5 301v7M481 323.5h7M484.5 320v7M481 304.5h7M484.5 301v7M481 314.5h7M484.5 311v7M482 309.5h7M485.5 306v7M482 311.5h7M485.5 308v7M482 314.5h7M485.5 311v7M482 312.5h7M485.5 309v7M483 302.5h7M486.5 299v7M483 319.5h7M486.5 316v7M483 318.5h7M486.5 315v7M483 322.5h7M486.5 319v7M484 323.5h7M487.5 320v7M484 299.5h7M487.5 296v7M484 322.5h7M487.5 319v7M484 323.5h7M487.5 320v7M485 307.5h7M488.5 304v7M485 320.5h7M488.5 317v7M485 324.5h7M488.5 321v7M486 307.5h7M489.5 304v7M486 299.5h7M489.5 296v7M486 309.5h7M489.5 306v7M486 314.5h7M489.5 311v7M487 301.5h7M490.5 298v7M487 310.5h7M490.5 307v7M487 303.5h7M490.5 300v7M487 309.5h7M490.5 306v7M488 313.5h7M491.5 310v7M488 315.5h7M491.5 312v7M488 323.5h7M491.5 320v7M488 311.5h7M491.5 308v7M489 309.5h7M492.5 306v7M489 321.5h7M492.5 318v7M489 300.5h7M492.5 297v7M489 300.5h7M492.5 297v7M490 299.5h7M493.5 296v7M490 311.5h7M493.5 308v7M490 316.5h7M493.5 313v7M490 312.5h7M493.5 309v7M491 317.5h7M494.5 314v7M491 319.5h7M494.5 316v7M491 317.5h7M494.5 314v7M492 305.5h7M495.5 302v7M492 310.5h7M495.5 307v7M492 322.5h7M495.5 319v7M492 302.5h7M495.5 299v7M493 310.5h7M496.5 307v7M493 309.5h7M496.5 306v7M493 311.5h7M496.5 308v7M493 302.5h7M496.5 299v7M494 299.5h7M497.5 296v7M494 320.5h7M497.5 317v7M494 306.5h7M497.5 303v7M494 312.5h7M497.5 309v7M495 318.5h7M498.5 315v7M495 309.5h7M498.5 306v7M495 318.5h7M498.5 315v7M495 307.5h7M498.5 304v7M496 309.5h7M499.5 306v7M496 312.5h7M499.5 309v7M496 308.5h7M499.5 305v7M496 313.5h7M499.5 310v7M497 315.5h7M500.5 312v7M497 317.5h7M500.5 314v7M497 303.5h7M500.5 300v7M498 316.5h7M501.5 313v7M498 315.5h7M501.5 312v7M498 295.5h7M501.5 292v7M498 291.5h7M501.5 288v7M499 317.5h7M502.5 314v7M499 303.5h7M502.5 300v7M499 321.5h7M502.5 318v7M499 329.5h7M502.5 326v7M500 307.5h7M503.5 304v7M500 306.5h7M503.5 303v7M500 313.5h7M503.5 310v7M500 318.5h7M503.5 315v7M501 302.5h7M504.5 299v7M501 322.5h7M504.5 319v7M501 320.5h7M504.5 317v7M501 318.5h7M504.5 315v7M502 308.5h7M505.5 305v7M502 320.5h7M505.5 317v7M502 319.5h7M505.5 316v7M502 301.5h7M505.5 298v7M503 329.5h7M506.5 326v7M503 310.5h7M506.5 307v7M503 316.5h7M506.5 313v7M503 308.5h7M506.5 305v7M504 316.5h7M507.5 313v7M504 322.5h7M507.5 319v7M504 305.5h7M507.5 302v7M505 296.5h7M508.5 293v7M505 309.5h7M508.5 306v7M505 300.5h7M508.5 297v7M505 305.5h7M508.5 302v7M506 312.5h7M509.5 309v7M506 312.5h7M509.5 309v7M506 323.5h7M509.5 320v7M506 303.5h7M509.5 300v7M507 316.5h7M510.5 313v7M507 308.5h7M510.5 305v7M507 323.5h7M510.5 320v7M507 315.5h7M510.5 312v7M508 326.5h7M511.5 323v7M508 308.5h7M511.5 305v7M508 297.5h7M511.5 294v7M508 300.5h7M511.5 297v7M509 297.5h7M512.5 294v7M509 303.5h7M512.5 300v7M509 311.5h7M512.5 308v7M509 322.5h7M512.5 319v7M510 318.5h7M513.5 315v7M510 316.5h7M513.5 313v7M510 309.5h7M513.5 306v7M511 306.5h7M514.5 303v7M511 313.5h7M514.5 310v7M511 314.5h7M514.5 311v7M511 315.5h7M514.5 312v7M512 316.5h7M515.5 313v7M512 312.5h7M515.5 309v7M512 294.5h7M515.5 291v7M512 302.5h7M515.5 299v7M513 305.5h7M516.5 302v7M513 326.5h7M516.5 323v7M513 309.5h7M516.5 306v7M513 318.5h7M516.5 315v7M514 324.5h7M517.5 321v7M514 316.5h7M517.5 313v7M514 309.5h7M517.5 306v7M514 310.5h7M517.5 307v7M515 303.5h7M518.5 300v7M515 315.5h7M518.5 312v7M515 321.5h7M518.5 318v7M515 317.5h7M518.5 314v7M516 319.5h7M519.5 316v7M516 318.5h7M519.5 315v7M516 328.5h7M519.5 325v7M517 307.5h7M520.5 304v7M517 314.5h7M520.5 311v7M517 318.5h7M520.5 315v7M517 322.5h7M520.5 319v7M518 308.5h7M521.5 305v7M518 311.5h7M521.5 308v7M518 303.5h7M521.5 300v7M518 319.5h7M521.5 316v7M519 315.5h7M522.5 312v7M519 309.5h7M522.5 306v7M519 297.5h7M522.5 294v7M519 300.5h7M522.5 297v7M520 303.5h7M523.5 300v7M520 316.5h7M523.5 313v7M520 301.5h7M523.5 298v7M520 292.5h7M523.5 289v7M521 298.5h7M524.5 295v7M521 307.5h7M524.5 304v7M521 326.5h7M524.5 323v7M521 308.5h7M524.5 305v7M522 320.5h7M525.5 317v7M522 324.5h7M525.5 321v7M522 323.5h7M525.5 320v7M523 312.5h7M526.5 309v7M523 300.5h7M526.5 297v7M523 308.5h7M526.5 305v7M523 294.5h7M526.5 291v7M524 315.5h7M527.5 312v7M524 319.5h7M527.5 316v7M524 294.5h7M527.5 291v7M524 312.5h7M527.5 309v7M525 315.5h7M528.5 312v7M525 322.5h7M528.5 319v7M525 323.5h7M528.5 320v7M525 319.5h7M528.5 316v7M526 306.5h7M529.5 303v7M526 309.5h7M529.5 306v7M526 322.5h7M529.5 319v7M526 307.5h7M529.5 304v7M527 313.5h7M530.5 310v7M527 325.5h7M530.5 322v7M527 314.5h7M530.5 311v7M527 299.5h7M530.5 296v7M528 310.5h7M531.5 307v7M528 318.5h7M531.5 315v7M528 311.5h7M531.5 308v7M529 322.5h7M532.5 319v7M529 323.5h7M532.5 320v7M529 306.5h7M532.5 303v7M529 308.5h7M532.5 305v7M530 312.5h7M533.5 309v7M530 301.5h7M533.5 298v7M530 316.5h7M533.5 313v7M530 311.5h7M533.5 308v7M531 319.5h7M534.5 316v7M531 307.5h7M534.5 304v7M531 304.5h7M534.5 301v7M531 327.5h7M534.5 324v7M532 304.5h7M535.5 301v7M532 307.5h7M535.5 304v7M532 306.5h7M535.5 303v7M532 310.5h7M535.5 307v7M533 304.5h7M536.5 301v7M533 313.5h7M536.5 310v7M533 306.5h7M536.5 303v7M533 309.5h7M536.5 306v7M534 316.5h7M537.5 313v7M534 318.5h7M537.5 315v7M534 317.5h7M537.5 314v7M534 306.5h7M537.5 303v7M535 316.5h7M538.5 313v7M535 312.5h7M538.5 309v7M535 312.5h7M538.5 309v7M536 296.5h7M539.5 293v7M536 318.5h7M539.5 315v7M536 312.5h7M539.5 309v7M536 326.5h7M539.5 323v7M537 318.5h7M540.5 315v7M537 302.5h7M540.5 299v7M537 299.5h7M540.5 296v7M537 322.5h7M540.5 319v7M538 304.5h7M541.5 301v7M538 318.5h7M541.5 315v7M538 310.5h7M541.5 307v7M538 329.5h7M541.5 326v7M539 314.5h7M542.5 311v7M539 324.5h7M542.5 321v7M539 323.5h7M542.5 320v7M539 308.5h7M542.5 305v7M540 310.5h7M543.5 307v7M540 324.5h7M543.5 321v7M540 313.5h7M543.5 310v7M540 304.5h7M543.5 301v7M541 322.5h7M544.5 319v7M541 313.5h7M544.5 310v7M541 324.5h7M544.5 321v7M542 312.5h7M545.5 309v7M542 323.5h7M545.5 320v7M542 311.5h7M545.5 308v7M542 323.5h7M545.5 320v7M543 317.5h7M546.5 314v7M543 312.5h7M546.5 309v7M543 315.5h7M546.5 312v7M543 308.5h7M546.5 305v7M544 302.5h7M547.5 299v7M544 303.5h7M547.5 300v7M544 313.5h7M547.5 310v7M544 303.5h7M547.5 300v7M545 317.5h7M548.5 314v7M545 317.5h7M548.5 314v7M545 317.5h7M548.5 314v7M545 309.5h7M548.5 306v7M546 314.5h7M549.5 311v7M546 313.5h7M549.5 310v7M546 323.5h7M549.5 320v7M546 306.5h7M549.5 303v7M547 310.5h7M550.5 307v7M547 311.5h7M550.5 308v7M547 312.5h7M550.5 309v7M548 306.5h7M551.5 303v7M548 307.5h7M551.5 304v7M548 321.5h7M551.5 318v7M548 307.5h7M551.5 304v7M549 320.5h7M552.5 317v7M549 329.5h7M552.5 326v7M549 323.5h7M552.5 320v7M549 296.5h7M552.5 293v7M550 319.5h7M553.5 316v7M550 317.5h7M553.5 314v7M550 318.5h7M553.5 315v7M550 297.5h7M553.5 294v7M551 319.5h7M554.5 316v7M551 303.5h7M554.5 300v7M551 323.5h7M554.5 320v7M551 322.5h7M554.5 319v7M552 310.5h7M555.5 307v7M552 298.5h7M555.5 295v7M552 321.5h7M555.5 318v7M552 320.5h7M555.5 317v7M553 310.5h7M556.5 307v7M553 324.5h7M556.5 321v7M553 319.5h7M556.5 316v7M554 301.5h7M557.5 298v7M554 310.5h7M557.5 307v7M554 309.5h7M557.5 306v7M554 313.5h7M557.5 310v7M555 315.5h7M558.5 312v7M555 307.5h7M558.5 304v7M555 312.5h7M558.5 309v7M555 318.5h7M558.5 315v7M556 313.5h7M559.5 310v7M556 311.5h7M559.5 308v7M556 311.5h7M559.5 308v7M556 313.5h7M559.5 310v7M557 294.5h7M560.5 291v7M557 315.5h7M560.5 312v7M89 276.5h7M92.5 273v7M90 279.5h7M93.5 276v7M91 275.5h7M94.5 272v7M92 278.5h7M95.5 275v7M90 283.5h7M93.5 280v7M93 281.5h7M96.5 278v7M94 277.5h7M97.5 274v7M96 280.5h7M99.5 277v7M88 280.5h7M91.5 277v7M98 283.5h7M101.5 280v7M88 286.5h7M91.5 283v7M91 288.5h7M94.5 285v7M89 292.5h7M92.5 289v7M88 170.5h7M91.5 167v7M185 109.5h7M188.5 106v7M89 259.5h7M92.5 256v7M89 262.5h7M92.5 259v7M96 267.5h7M99.5 264v7M88 268.5h7M91.5 265v7M101 273.5h7M104.5 270v7M117 274.5h7M120.5 271v7M121 282.5h7M124.5 279v7M142 284.5h7M145.5 281v7M154 283.5h7M157.5 280v7M184 260.5h7M187.5 257v7M184 271.5h7M187.5 268v7M185 280.5h7M188.5 277v7M203 252.5h7M206.5 249v7M241 282.5h7M244.5 279v7M206 285.5h7M209.5 282v7M194 287.5h7M197.5 284v7M319 262.5h7M322.5 259v7M315 268.5h7M318.5 265v7M338 273.5h7M341.5 270v7M377 267.5h7M380.5 264v7M396 245.5h7M399.5 242v7M389 272.5h7M392.5 269v7M382 275.5h7M385.5 272v7M362 277.5h7M365.5 274v7M401 262.5h7M404.5 259v7M250 282.5h7M253.5 279v7M260 282.5h7M263.5 279v7M319 281.5h7M322.5 278v7M344 282.5h7M347.5 279v7M356 281.5h7M359.5 278v7M383 277.5h7M386.5 274v7M455 224.5h7M458.5 221v7M416 238.5h7M419.5 235v7M526 228.5h7M529.5 225v7M526 254.5h7M529.5 251v7M527 273.5h7M530.5 270v7M405 262.5h7M408.5 259v7M405 268.5h7M408.5 265v7M433 263.5h7M436.5 260v7M445 266.5h7M448.5 263v7M440 271.5h7M443.5 268v7M411 274.5h7M414.5 271v7M421 275.5h7M424.5 272v7M426 275.5h7M429.5 272v7M456 273.5h7M459.5 270v7M442 274.5h7M445.5 271v7M456 278.5h7M459.5 275v7M460 282.5h7M463.5 279v7M474 287.5h7M477.5 284v7M500 288.5h7M503.5 285v7M510 287.5h7M513.5 284v7M533 285.5h7M536.5 282v7M554 287.5h7M557.5 284v7M403 272.5h7M406.5 269v7M100 327.5h7M103.5 324v7M116 332.5h7M119.5 329v7M127 332.5h7M130.5 329v7M142 335.5h7M145.5 332v7M139 329.5h7M142.5 326v7M153 331.5h7M156.5 328v7M165 332.5h7M168.5 329v7M180 327.5h7M183.5 324v7M189 333.5h7M192.5 330v7M189 339.5h7M192.5 336v7M194 337.5h7M197.5 334v7M205 342.5h7M208.5 339v7M203 337.5h7M206.5 334v7M210 333.5h7M213.5 330v7M217 338.5h7M220.5 335v7M228 337.5h7M231.5 334v7M233 333.5h7M236.5 330v7M239 337.5h7M242.5 334v7M240 330.5h7M243.5 327v7M95 316.5h7M98.5 313v7M98 322.5h7M101.5 319v7M108 323.5h7M111.5 320v7M128 325.5h7M131.5 322v7M148 323.5h7M151.5 320v7M158 326.5h7M161.5 323v7M162 331.5h7M165.5 328v7M200 331.5h7M203.5 328v7M219 328.5h7M222.5 325v7M244 325.5h7M247.5 322v7M245 330.5h7M248.5 327v7M251 332.5h7M254.5 329v7M262 330.5h7M265.5 327v7M276 328.5h7M279.5 325v7M289 332.5h7M292.5 329v7M295 335.5h7M298.5 332v7M301 329.5h7M304.5 326v7M317 329.5h7M320.5 326v7M330 328.5h7M333.5 325v7M330 334.5h7M333.5 331v7M333 323.5h7M336.5 320v7M340 322.5h7M343.5 319v7M364 326.5h7M367.5 323v7M370 323.5h7M373.5 320v7M373 328.5h7M376.5 325v7M376 328.5h7M379.5 325v7M383 321.5h7M386.5 318v7M396 318.5h7M399.5 315v7M268 322.5h7M271.5 319v7M316 323.5h7M319.5 320v7M360 318.5h7M363.5 315v7M303 325.5h7M306.5 322v7M406 326.5h7M409.5 323v7M413 321.5h7M416.5 318v7M426 322.5h7M429.5 319v7M434 322.5h7M437.5 319v7M435 330.5h7M438.5 327v7M431 335.5h7M434.5 332v7M454 329.5h7M457.5 326v7M461 334.5h7M464.5 331v7M466 332.5h7M469.5 329v7M478 330.5h7M481.5 327v7M483 339.5h7M486.5 336v7M499 339.5h7M502.5 336v7M496 331.5h7M499.5 328v7M494 328.5h7M497.5 325v7M520 334.5h7M523.5 331v7M524 333.5h7M527.5 330v7M534 332.5h7M537.5 329v7M539 330.5h7M542.5 327v7M546 330.5h7M549.5 327v7M551 335.5h7M554.5 332v7M553 326.5h7M556.5 323v7M518 328.5h7M521.5 325v7M458 323.5h7M461.5 320v7" stroke="#9400d3" stroke-width="1" fill="none" shape-rendering="crispEdges"/>
<g stroke="#000" stroke-width="1" fill="none" shape-rendering="crispEdges">
<path d="M91.5 45.5H612.5V431.5H91.5Z"/>
<path d="M91.5 368.5h4M91.5 305.5h4M91.5 242.5h4M91.5 179.5h4M91.5 116.5h4M91.5 53.5h4
M612.5 368.5h-5M612.5 305.5h-5M612.5 242.5h-5M612.5 179.5h-5M612.5 116.5h-5M612.5 53.5h-5
M143.5 431.5v-4M195.5 431.5v-4M247.5 431.5v-4M299.5 431.5v-4M352.5 431.5v-4M404.5 431.5v-4M456.5 431.5v-4M508.5 431.5v-4M560.5 431.5v-4
M143.5 45.5v4M195.5 45.5v4M247.5 45.5v4M299.5 45.5v4M352.5 45.5v4M404.5 45.5v4M456.5 45.5v4M508.5 45.5v4M560.5 45.5v4"/>
</g>
<g text-anchor="end" letter-spacing="0.18">
<text x="82.4" y="434.7">0</text>
<text x="82.4" y="371.7">5000</text>
<text x="82.4" y="308.7">10000</text>
<text x="82.4" y="245.7">15000</text>
<text x="82.4" y="182.7">20000</text>
<text x="82.4" y="119.7">25000</text>
<text x="82.4" y="56.7">30000</text>
</g>
<g text-anchor="middle">
<text x="92.5" y="449.7">0</text>
<text x="144.4" y="449.7">200</text>
<text x="196.4" y="449.7">400</text>
<text x="248.4" y="449.7">600</text>
<text x="300.5" y="449.7">800</text>
<text x="353.9" y="449.7">1000</text>
<text x="405.8" y="449.7">1200</text>
<text x="457.7" y="449.7">1400</text>
<text x="509.8" y="449.7">1600</text>
<text x="561.8" y="449.7">1800</text>
<text x="613.9" y="449.7">2000</text>
<text x="350.4" y="26.7" letter-spacing="0.03">maxInsertUsecs vs Time for qr100.L1</text>
<text x="350.3" y="471.8">Time(s)</text>
<text transform="translate(17,237.5) rotate(-90)">maxInsertUsecs</text>
</g>
<text x="341.9" y="60.8" letter-spacing="-0.05">pg1323<tspan font-size="12.8" dy="4">o</tspan><tspan dy="-4">2nofp.cx10a</tspan><tspan font-size="12.8" dy="4">c</tspan><tspan dy="-4">32r128</tspan></text>
<path d="M571 57.5h7M574.5 54v7" stroke="#9400d3" stroke-width="1" fill="none"/>
</svg>
</body></html>
